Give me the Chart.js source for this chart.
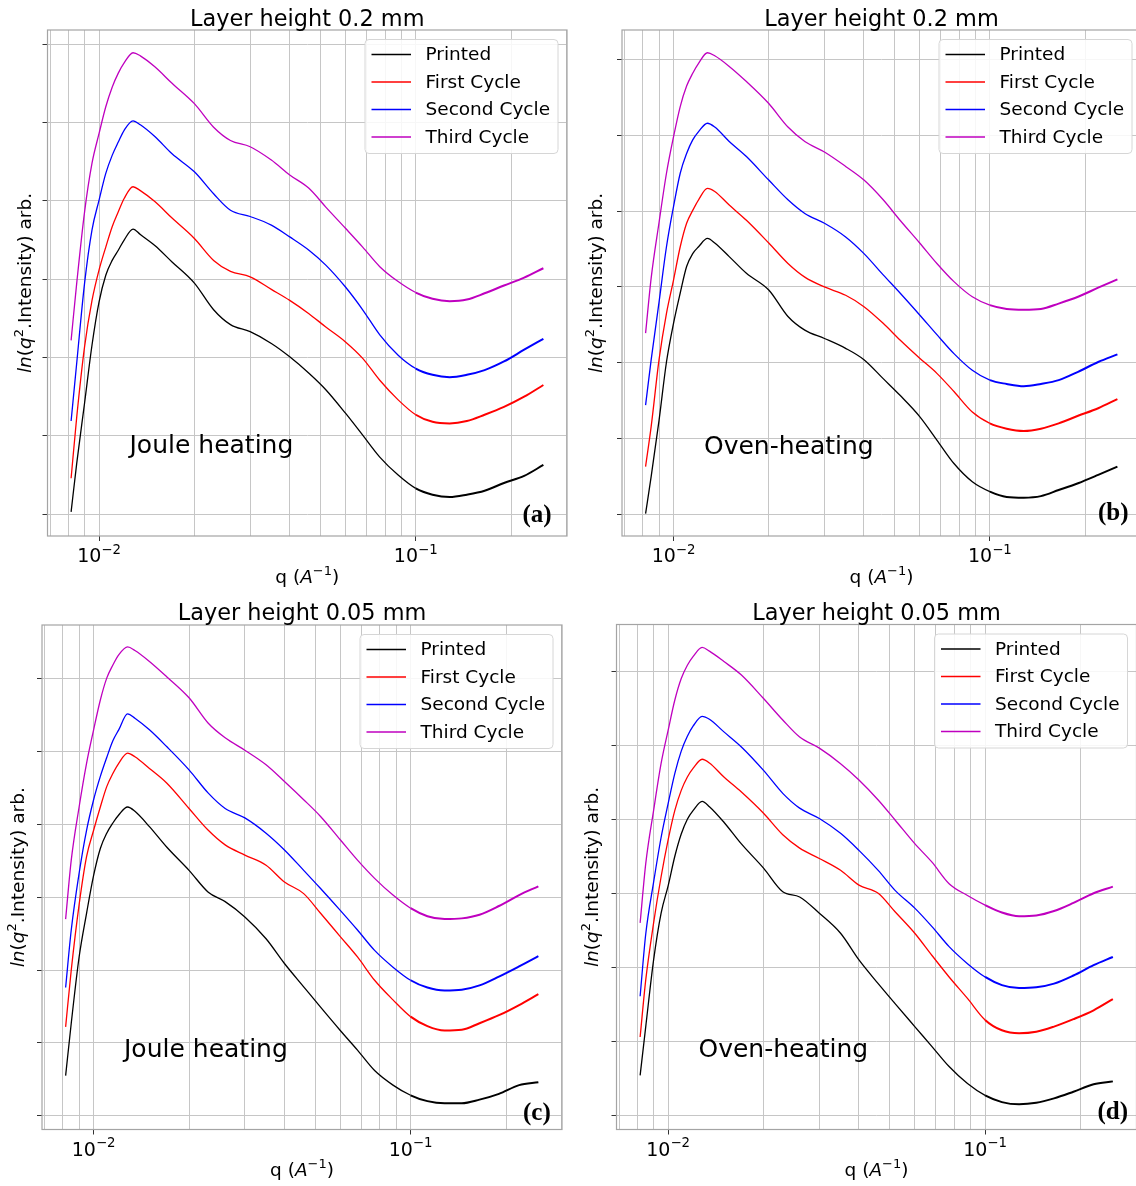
<!DOCTYPE html>
<html>
<head>
<meta charset="utf-8">
<script src="https://cdn.jsdelivr.net/npm/chart.js@4.4.0/dist/chart.umd.min.js"></script>
<style>
  html, body { margin: 0; padding: 0; background: #fff; }
  #page { position: relative; width: 1136px; height: 1186px; overflow: hidden; background: #fff; }
  #page canvas { position: absolute; left: 0; top: 0; }
</style>
</head>
<body>
<div id="page"></div>
<script>
// scattering vector q (A^-1), shared by all curves
const q = [0.00816, 0.0085, 0.009, 0.0095, 0.010, 0.0105, 0.011, 0.0115, 0.012, 0.0128, 0.0135,
  0.015, 0.017, 0.020, 0.023, 0.026, 0.030, 0.035, 0.040, 0.046, 0.052, 0.060, 0.068, 0.077,
  0.088, 0.100, 0.113, 0.128, 0.145, 0.165, 0.190, 0.220, 0.253];

const seriesNames = ['Printed', 'First Cycle', 'Second Cycle', 'Third Cycle'];
const seriesColors = ['#000000', '#ff0000', '#0000ff', '#bf00bf'];

// (a) 0.2 mm, Joule heating
const printedA = [0.03, 0.65, 1.42, 2.16, 2.71, 3.05, 3.24, 3.37, 3.50, 3.64, 3.57, 3.43, 3.22, 2.95, 2.61, 2.42, 2.33, 2.18, 2.01, 1.80, 1.59, 1.29, 1.01, 0.73, 0.50, 0.33, 0.25, 0.22, 0.25, 0.30, 0.40, 0.49, 0.63];
const firstA   = [0.46, 1.24, 2.14, 2.73, 3.12, 3.41, 3.67, 3.86, 4.03, 4.18, 4.13, 3.99, 3.78, 3.52, 3.24, 3.10, 3.03, 2.87, 2.73, 2.56, 2.39, 2.20, 1.99, 1.71, 1.46, 1.27, 1.18, 1.16, 1.19, 1.27, 1.37, 1.50, 1.65];
const secondA  = [1.19, 1.93, 2.95, 3.63, 4.01, 4.35, 4.58, 4.75, 4.90, 5.02, 4.97, 4.82, 4.60, 4.37, 4.09, 3.88, 3.80, 3.69, 3.54, 3.37, 3.18, 2.90, 2.61, 2.29, 2.03, 1.86, 1.78, 1.75, 1.78, 1.84, 1.95, 2.10, 2.24];
const thirdA   = [2.22, 2.95, 3.86, 4.48, 4.86, 5.20, 5.45, 5.63, 5.76, 5.89, 5.85, 5.71, 5.50, 5.24, 4.94, 4.77, 4.69, 4.52, 4.33, 4.16, 3.92, 3.65, 3.41, 3.16, 2.97, 2.83, 2.75, 2.72, 2.74, 2.82, 2.92, 3.02, 3.14];

// (b) 0.2 mm, oven heating
const printedB = [0.01, 0.50, 1.24, 2.01, 2.52, 2.92, 3.27, 3.44, 3.53, 3.64, 3.58, 3.40, 3.18, 2.96, 2.61, 2.43, 2.32, 2.19, 2.04, 1.79, 1.57, 1.29, 0.98, 0.67, 0.43, 0.30, 0.23, 0.22, 0.24, 0.32, 0.41, 0.52, 0.63];
const firstB   = [0.63, 1.16, 2.04, 2.65, 3.09, 3.53, 3.84, 4.01, 4.15, 4.30, 4.26, 4.08, 3.88, 3.58, 3.31, 3.13, 3.00, 2.89, 2.74, 2.52, 2.30, 2.06, 1.86, 1.62, 1.35, 1.20, 1.13, 1.10, 1.13, 1.20, 1.30, 1.40, 1.52];
const secondB  = [1.44, 2.04, 2.80, 3.53, 4.06, 4.50, 4.76, 4.94, 5.05, 5.16, 5.11, 4.92, 4.72, 4.41, 4.15, 3.97, 3.84, 3.66, 3.44, 3.16, 2.92, 2.63, 2.37, 2.12, 1.90, 1.77, 1.72, 1.69, 1.72, 1.77, 1.88, 2.01, 2.11];
const thirdB   = [2.39, 3.12, 3.85, 4.50, 4.98, 5.38, 5.65, 5.82, 5.95, 6.09, 6.05, 5.91, 5.71, 5.42, 5.11, 4.92, 4.78, 4.59, 4.41, 4.15, 3.88, 3.58, 3.31, 3.07, 2.87, 2.76, 2.71, 2.70, 2.71, 2.78, 2.87, 2.99, 3.10];

// (c) 0.05 mm, Joule heating
const printedC = [0.55, 1.27, 2.18, 2.78, 3.30, 3.67, 3.88, 4.02, 4.13, 4.24, 4.18, 3.97, 3.69, 3.37, 3.07, 2.94, 2.73, 2.43, 2.09, 1.77, 1.49, 1.17, 0.90, 0.62, 0.42, 0.28, 0.20, 0.17, 0.17, 0.22, 0.30, 0.42, 0.46];
const firstC   = [1.22, 2.00, 2.90, 3.56, 3.92, 4.24, 4.52, 4.70, 4.84, 4.98, 4.93, 4.77, 4.57, 4.22, 3.92, 3.72, 3.58, 3.44, 3.21, 3.05, 2.78, 2.46, 2.18, 1.86, 1.59, 1.36, 1.23, 1.17, 1.18, 1.27, 1.38, 1.52, 1.67];
const secondC  = [1.76, 2.55, 3.33, 3.92, 4.34, 4.66, 4.92, 5.15, 5.30, 5.52, 5.46, 5.30, 5.07, 4.75, 4.43, 4.22, 4.09, 3.88, 3.65, 3.37, 3.12, 2.82, 2.55, 2.27, 2.04, 1.86, 1.76, 1.72, 1.73, 1.79, 1.91, 2.05, 2.19];
const thirdC   = [2.70, 3.51, 4.24, 4.84, 5.30, 5.71, 6.01, 6.19, 6.33, 6.44, 6.39, 6.24, 6.03, 5.74, 5.39, 5.19, 5.02, 4.82, 4.59, 4.34, 4.11, 3.79, 3.51, 3.26, 3.03, 2.85, 2.74, 2.70, 2.71, 2.76, 2.88, 3.03, 3.15];

// (d) 0.05 mm, oven heating
const printedD = [0.54, 1.20, 2.10, 2.73, 3.10, 3.50, 3.80, 4.00, 4.12, 4.24, 4.17, 3.96, 3.67, 3.34, 3.02, 2.95, 2.73, 2.46, 2.10, 1.78, 1.51, 1.20, 0.93, 0.66, 0.43, 0.27, 0.18, 0.15, 0.17, 0.23, 0.32, 0.42, 0.46];
const firstD   = [1.06, 1.83, 2.60, 3.22, 3.72, 4.12, 4.39, 4.57, 4.69, 4.81, 4.76, 4.57, 4.37, 4.08, 3.79, 3.61, 3.47, 3.31, 3.11, 3.00, 2.75, 2.46, 2.16, 1.87, 1.58, 1.29, 1.15, 1.11, 1.13, 1.20, 1.30, 1.42, 1.57];
const secondD  = [1.61, 2.45, 3.15, 3.75, 4.21, 4.62, 4.92, 5.12, 5.26, 5.39, 5.35, 5.18, 4.98, 4.66, 4.35, 4.15, 4.01, 3.81, 3.58, 3.31, 3.04, 2.80, 2.55, 2.28, 2.05, 1.87, 1.76, 1.72, 1.73, 1.78, 1.89, 2.03, 2.14];
const thirdD   = [2.60, 3.40, 4.12, 4.75, 5.20, 5.61, 5.90, 6.08, 6.20, 6.32, 6.27, 6.13, 5.95, 5.63, 5.34, 5.11, 4.96, 4.75, 4.53, 4.26, 3.99, 3.67, 3.42, 3.13, 2.97, 2.84, 2.74, 2.69, 2.70, 2.76, 2.87, 3.00, 3.09];

// axis ticks
const xGridTicks = [0.007, 0.008, 0.009, 0.01, 0.02, 0.03, 0.04, 0.05, 0.06, 0.07, 0.08, 0.09, 0.1, 0.2, 0.3];
const xLabelTicks = [0.01, 0.1];
const xLabelExp = ['\u22122', '\u22121'];
const yTicks = [0, 1, 2, 3, 4, 5, 6];
const xMin = 0.006873, xMax = 0.3004;

const CW = 1150, CH = 1186;
const SANS = '"DejaVu Sans", sans-serif';
const GRID = '#c6c6c6';

const panels = [
  { title: 'Layer height 0.2 mm', note: 'Joule heating', letter: '(a)',
    series: [printedA, firstA, secondA, thirdA],
    box: { left: 47.5, top: 30, right: 567, bottom: 536 }, yMin: -0.277, yMax: 6.18,
    titleDy: 4, noteAt: [82, 453], letterAt: [475, 521.5], yLabelDx: 17 },
  { title: 'Layer height 0.2 mm', note: 'Oven-heating', letter: '(b)',
    series: [printedB, firstB, secondB, thirdB],
    box: { left: 622, top: 30, right: 1141, bottom: 536 }, yMin: -0.286, yMax: 6.39,
    titleDy: 4, noteAt: [82, 454], letterAt: [476, 520], yLabelDx: 20 },
  { title: 'Layer height 0.05 mm', note: 'Joule heating', letter: '(c)',
    series: [printedC, firstC, secondC, thirdC],
    box: { left: 42, top: 625, right: 562, bottom: 1129.5 }, yMin: -0.19, yMax: 6.74,
    titleDy: 5, noteAt: [82, 1056.5], letterAt: [481, 1120], yLabelDx: 18.5 },
  { title: 'Layer height 0.05 mm', note: 'Oven-heating', letter: '(d)',
    series: [printedD, firstD, secondD, thirdD],
    box: { left: 616.5, top: 624.5, right: 1136.5, bottom: 1129.5 }, yMin: -0.19, yMax: 6.63,
    titleDy: 5, noteAt: [82, 1056.5], letterAt: [481, 1118.5], yLabelDx: 19 }
];

function drawRuns(ctx, runs, x, y, align) {
  let w = 0;
  runs.forEach(r => { ctx.font = r.font; r.w = ctx.measureText(r.t).width; w += r.w; });
  let cx = align === 'center' ? x - w / 2 : x;
  runs.forEach(r => {
    ctx.font = r.font;
    ctx.fillText(r.t, cx, y - (r.up || 0));
    cx += r.w;
  });
}

function makeDecor(p) {
  return {
    id: 'decor',
    afterDatasetsDraw(chart) {
      const ctx = chart.ctx;
      const a = chart.chartArea;
      ctx.save();
      // frame
      ctx.strokeStyle = '#a4a4a4';
      ctx.lineWidth = 1.2;
      ctx.strokeRect(a.left, a.top, a.right - a.left, a.bottom - a.top);

      // legend box
      const lgW = 193, lgH = 114;
      const lx = a.right - 9 - lgW, ly = a.top + 9.5;
      ctx.beginPath();
      ctx.roundRect(lx, ly, lgW, lgH, 4);
      ctx.fillStyle = 'rgba(255,255,255,0.85)';
      ctx.fill();
      ctx.strokeStyle = '#d6d6d6';
      ctx.lineWidth = 1;
      ctx.stroke();
      ctx.textBaseline = 'middle';
      ctx.textAlign = 'left';
      ctx.font = '18.5px ' + SANS;
      chart.data.datasets.forEach((ds, i) => {
        const ry = ly + 15 + i * 27.5;
        ctx.strokeStyle = ds.borderColor;
        ctx.lineWidth = 1.5;
        ctx.beginPath();
        ctx.moveTo(lx + 6.5, ry);
        ctx.lineTo(lx + 46, ry);
        ctx.stroke();
        ctx.fillStyle = '#000';
        ctx.fillText(ds.label, lx + 60.5, ry + 1);
      });
      ctx.restore();
    },
    afterDraw(chart) {
      const ctx = chart.ctx;
      const a = chart.chartArea;
      const xs = chart.scales.x;
      const cx = (a.left + a.right) / 2;
      ctx.save();
      ctx.fillStyle = '#000';
      ctx.textBaseline = 'alphabetic';
      ctx.textAlign = 'left';

      // title
      drawRuns(ctx, [{ t: p.title, font: '22.4px ' + SANS }], cx, a.top - p.titleDy, 'center');

      // x tick labels 10^-2, 10^-1
      xLabelTicks.forEach((v, i) => {
        drawRuns(ctx, [
          { t: '10', font: '19px ' + SANS },
          { t: xLabelExp[i], font: '13.3px ' + SANS, up: 8.5 }
        ], xs.getPixelForValue(v), a.bottom + 26, 'center');
      });

      // x axis label
      drawRuns(ctx, [
        { t: 'q (', font: '18.5px ' + SANS },
        { t: 'A', font: 'italic 18.5px ' + SANS },
        { t: '\u22121', font: '13px ' + SANS, up: 8 },
        { t: ')', font: '18.5px ' + SANS }
      ], cx, a.bottom + 46.5, 'center');

      // y axis label, rotated
      ctx.save();
      ctx.translate(a.left - p.yLabelDx, (a.top + a.bottom) / 2);
      ctx.rotate(-Math.PI / 2);
      drawRuns(ctx, [
        { t: 'ln', font: 'italic 18.5px ' + SANS },
        { t: '(', font: '18.5px ' + SANS },
        { t: 'q', font: 'italic 18.5px ' + SANS },
        { t: '2', font: '13px ' + SANS, up: 8 },
        { t: '.Intensity) arb.', font: '18.5px ' + SANS }
      ], 0, 0, 'center');
      ctx.restore();

      // annotation
      drawRuns(ctx, [{ t: p.note, font: '25px ' + SANS }], a.left + p.noteAt[0], p.noteAt[1], 'left');

      // panel letter
      drawRuns(ctx, [{ t: p.letter, font: 'bold 25px "Liberation Serif", "Times New Roman", serif' }],
        a.left + p.letterAt[0], p.letterAt[1], 'left');
      ctx.restore();
    }
  };
}

const page = document.getElementById('page');

panels.forEach(p => {
  const canvas = document.createElement('canvas');
  canvas.width = CW;
  canvas.height = CH;
  canvas.style.width = CW + 'px';
  canvas.style.height = CH + 'px';
  page.appendChild(canvas);

  new Chart(canvas, {
    type: 'line',
    data: {
      datasets: p.series.map((ys, i) => ({
        label: seriesNames[i],
        data: q.map((x, k) => ({ x: x, y: ys[k] })),
        borderColor: seriesColors[i],
        borderWidth: 1.3,
        pointRadius: 0,
        cubicInterpolationMode: 'monotone',
        fill: false,
        segment: { borderWidth: c => (c.p0.parsed.x >= 0.09 ? 2.0 : 1.3) }
      }))
    },
    options: {
      responsive: false,
      animation: false,
      devicePixelRatio: 1,
      events: [],
      layout: {
        padding: {
          left: p.box.left - 5,
          top: p.box.top,
          right: CW - p.box.right,
          bottom: CH - p.box.bottom - 5
        }
      },
      scales: {
        x: {
          type: 'logarithmic',
          min: xMin,
          max: xMax,
          afterBuildTicks: s => { s.ticks = xGridTicks.map(v => ({ value: v, major: xLabelTicks.includes(v) })); },
          afterFit: s => { s.height = 5; },
          ticks: { display: false },
          border: { display: false },
          grid: {
            color: GRID,
            lineWidth: 1,
            tickLength: 5,
            tickColor: c => (c.tick && c.tick.major ? '#333' : 'rgba(0,0,0,0)')
          }
        },
        y: {
          type: 'linear',
          min: p.yMin,
          max: p.yMax,
          afterBuildTicks: s => { s.ticks = yTicks.map(v => ({ value: v })); },
          afterFit: s => { s.width = 5; },
          ticks: { display: false },
          border: { display: false },
          grid: { color: GRID, lineWidth: 1, tickLength: 5, tickColor: '#333' }
        }
      },
      plugins: {
        legend: { display: false },
        tooltip: { enabled: false },
        title: { display: false }
      }
    },
    plugins: [makeDecor(p)]
  });
});
</script>
</body>
</html>
